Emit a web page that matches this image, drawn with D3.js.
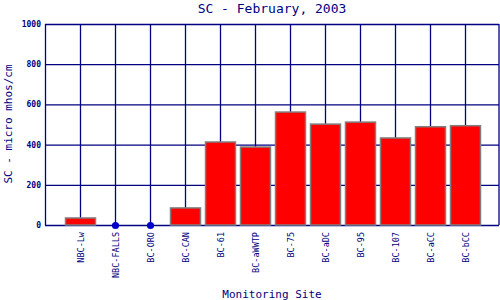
<!DOCTYPE html>
<html>
<head>
<meta charset="utf-8">
<script src="https://cdn.jsdelivr.net/npm/d3@7"></script>
<style>
  body { margin: 0; background: #fff; }
  text { font-family: "DejaVu Sans Mono", monospace; fill: #000080; }
</style>
</head>
<body>
<svg width="500" height="300"></svg>
<script>
// data
var sites = ["NBC-Lw", "NBC-FALLS", "BC-ORO", "BC-CAN", "BC-61", "BC-aWWTP",
  "BC-75", "BC-aDC", "BC-95", "BC-107", "BC-aCC", "BC-bCC"];
var values = [35, 0, 0, 85, 413, 388, 562, 502, 512, 433, 489, 494];
var yTicks = [0, 200, 400, 600, 800, 1000];

var svg = d3.select("svg");
var plotLeft = 45, plotRight = 499, plotTop = 24, plotBottom = 225;
var navy = "#000080";

var rows = values.map(function(v, i) { return {site: sites[i], v: v, i: i}; });

// slots 0..13, sites sit on 1..12
var x = d3.scaleLinear().domain([0, sites.length + 1]).range([plotLeft, plotLeft + 35 * (sites.length + 1)]);
var y = d3.scaleLinear().domain([0, 1000]).range([plotBottom, plotTop]);

var grid = svg.append("g");
grid.selectAll("line.h")
  .data(yTicks)
  .enter().append("line")
  .attr("x1", plotLeft).attr("x2", plotRight)
  .attr("y1", function(d) { return y(d) + 0.5; })
  .attr("y2", function(d) { return y(d) + 0.5; })
  .attr("stroke", navy).attr("stroke-width", 1.3);

grid.selectAll("line.v")
  .data(sites)
  .enter().append("line")
  .attr("x1", function(d, i) { return x(i + 1) + 0.5; })
  .attr("x2", function(d, i) { return x(i + 1) + 0.5; })
  .attr("y1", plotTop).attr("y2", plotBottom)
  .attr("stroke", navy).attr("stroke-width", 1.3);

// frame left and right
grid.append("line").attr("x1", plotLeft + 0.5).attr("x2", plotLeft + 0.5).attr("y1", plotTop).attr("y2", plotBottom + 0.5)
  .attr("stroke", navy).attr("stroke-width", 1.3);
grid.append("line").attr("x1", plotRight).attr("x2", plotRight).attr("y1", plotTop).attr("y2", plotBottom)
  .attr("stroke", navy).attr("stroke-width", 1.3);

// bars
svg.append("g").selectAll("rect")
  .data(rows.filter(function(d) { return d.v > 0; }))
  .enter().append("rect")
  .attr("x", function(d) { return x(d.i + 1) - 14.5; })
  .attr("y", function(d) { return y(d.v); })
  .attr("width", 30)
  .attr("height", function(d) { return y(0) - y(d.v); })
  .attr("fill", "#ff0000")
  .attr("stroke", "#808080")
  .attr("stroke-width", 1.5);

// zero values as dots
svg.append("g").selectAll("circle")
  .data(rows.filter(function(d) { return d.v === 0; }))
  .enter().append("circle")
  .attr("cx", function(d) { return x(d.i + 1) + 0.5; })
  .attr("cy", function(d) { return y(d.v) + 0.5; })
  .attr("r", 3.6)
  .attr("fill", "#0000cc");

// y tick labels
svg.append("g").selectAll("text")
  .data(yTicks)
  .enter().append("text")
  .attr("x", plotLeft - 4)
  .attr("y", function(d) { return y(d) + 3; })
  .attr("text-anchor", "end")
  .attr("font-size", 8)
  .attr("font-weight", "bold")
  .text(function(d) { return d; });

// x tick labels, rotated
svg.append("g").selectAll("text")
  .data(sites)
  .enter().append("text")
  .attr("transform", function(d, i) { return "translate(" + (x(i + 1) + 3.5) + "," + (plotBottom + 7) + ") rotate(-90)"; })
  .attr("text-anchor", "end")
  .attr("font-size", 8.5)
  .text(function(d) { return d; });

svg.append("text")
  .attr("x", 272).attr("y", 13)
  .attr("text-anchor", "middle")
  .attr("font-size", 13)
  .text("SC - February, 2003");

svg.append("text")
  .attr("x", 272).attr("y", 298)
  .attr("text-anchor", "middle")
  .attr("font-size", 11)
  .text("Monitoring Site");

svg.append("text")
  .attr("transform", "translate(12,124) rotate(-90)")
  .attr("text-anchor", "middle")
  .attr("font-size", 11)
  .text("SC - micro mhos/cm");
</script>
</body>
</html>
